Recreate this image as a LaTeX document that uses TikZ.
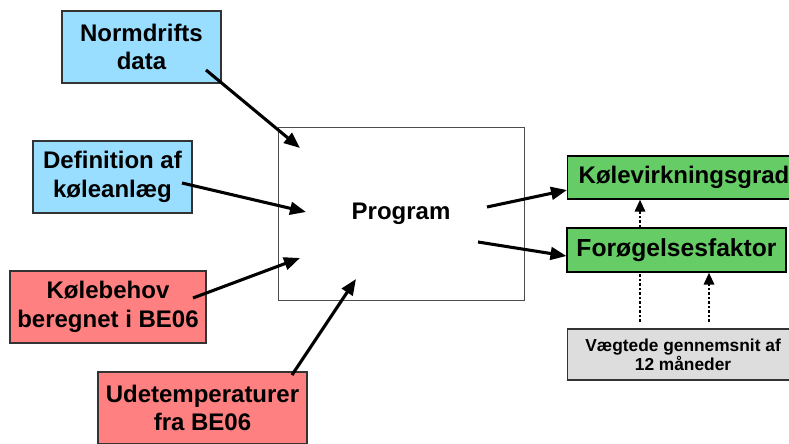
\documentclass[tikz,border=0pt]{standalone}
\usepackage{fontspec}
\setmainfont{Liberation Sans}
\usetikzlibrary{arrows.meta}
\definecolor{boxblue}{RGB}{153,221,255}
\definecolor{boxred}{RGB}{255,128,128}
\definecolor{boxgreen}{RGB}{102,204,102}
\definecolor{boxgray}{RGB}{221,221,221}
\tikzset{
  box/.style={draw=black!80, line width=0.8pt, align=center, inner sep=0pt,
    font=\fontsize{18}{21.5}\selectfont\bfseries},
  smallbox/.style={draw=black!80, line width=0.8pt, align=center, inner sep=0pt,
    font=\fontsize{13}{14.5}\selectfont\bfseries},
  arr/.style={line width=2.3pt, -{Triangle[length=12pt,width=9.5pt]}},
  dotarr/.style={line width=2.2pt, dash pattern=on 2pt off 1.4pt, -{Triangle[length=9pt,width=7.5pt]}},
  dotline/.style={line width=2.2pt, dash pattern=on 2pt off 1.4pt},
}
\begin{document}
\begin{tikzpicture}[x=0.75pt,y=-0.75pt]
\useasboundingbox (0,0) rectangle (789,443);
\clip (0,0) rectangle (789,443);
\fill[white] (0,0) rectangle (789,443);
% input boxes
\node[box, fill=boxblue, minimum width=119.25pt, minimum height=54pt] (norm) at (141.5,47) {Normdrifts\\data};
\node[box, fill=boxblue, minimum width=119.25pt, minimum height=54pt] (def) at (112.5,177) {Definition af\\køleanlæg};
\node[box, fill=boxred, minimum width=147pt, minimum height=54pt] (kol) at (108,307) {Kølebehov\\beregnet i BE06};
\node[box, fill=boxred, minimum width=156.75pt, minimum height=54pt] (ude) at (202.5,408) {Udetemperaturer\\fra BE06};
% program
\node[draw=black!70, line width=0.6pt, minimum width=184.5pt, minimum height=129.75pt, inner sep=0pt,
  font=\fontsize{18}{21.5}\selectfont\bfseries] (prog) at (401,213.5) {Program};
% outputs
\node[box, fill=boxgreen, draw=black, minimum width=174.75pt, minimum height=32.25pt, anchor=west] (virk) at (567,177.5) {Kølevirkningsgrad};
\node[box, fill=boxgreen, draw=black, minimum width=164.25pt, minimum height=33pt, font=\fontsize{18.5}{21.5}\selectfont\bfseries] (foro) at (676.5,250) {Forøgelsesfaktor};
\node[smallbox, fill=boxgray, minimum width=173.25pt, minimum height=38.25pt, anchor=west] (vaeg) at (567,354.5) {Vægtede gennemsnit af\\12 måneder};
% coordinates
\coordinate (n1) at (206,70);   \coordinate (n2) at (300,148);
\coordinate (d1) at (182,183);  \coordinate (d2) at (306,212);
\coordinate (k1) at (193,298);  \coordinate (k2) at (300,258);
\coordinate (u1) at (292,375);  \coordinate (u2) at (356,279);
\coordinate (o1) at (487,207);
\coordinate (o2) at (478,242);
\coordinate (g1) at (640,322);
\coordinate (g2) at (709,322);
% arrows
\draw[arr] (n1) -- (n2);
\draw[arr] (d1) -- (d2);
\draw[arr] (k1) -- (k2);
\draw[arr] (u1) -- (u2);
\draw[arr] (o1) -- (virk.west |- 0,190);
\draw[arr] (o2) -- (foro.west |- 0,256);
\draw[dotarr] (foro.north -| 640,0) -- (virk.south -| 640,0);
\draw[dotline] (g1) -- (foro.south -| 640,0);
\draw[dotarr] (g2) -- (foro.south -| 709,0);
\end{tikzpicture}
\end{document}
